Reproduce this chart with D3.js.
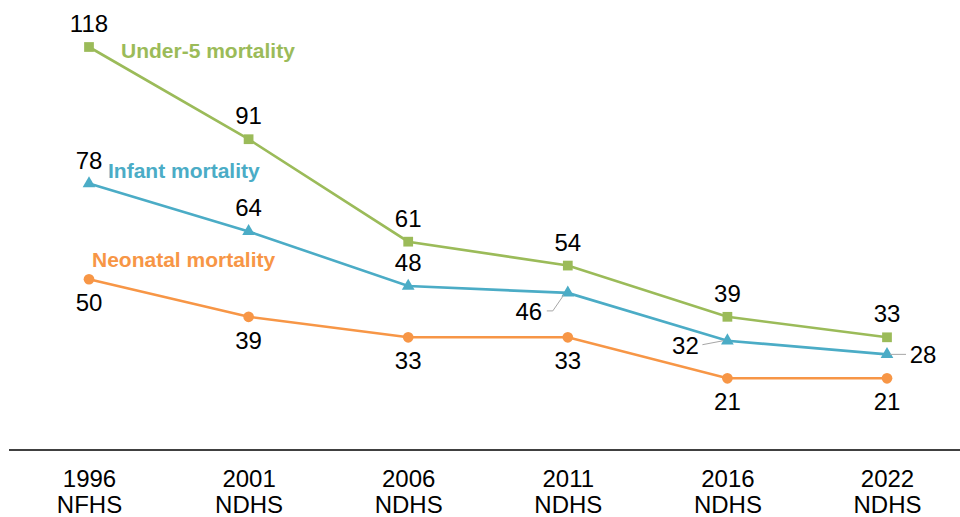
<!DOCTYPE html>
<html>
<head>
<meta charset="utf-8">
<script src="https://cdn.jsdelivr.net/npm/d3@7"></script>
<style>
  body { margin: 0; background: #fff; }
  svg text { font-family: "Liberation Sans", Arial, sans-serif; }
</style>
</head>
<body>
<div class="chart"></div>
<script>
const width = 960;
const height = 517;

const years = ['1996', '2001', '2006', '2011', '2016', '2022'];
const surveys = ['NFHS', 'NDHS', 'NDHS', 'NDHS', 'NDHS', 'NDHS'];

const under5 = [118, 91, 61, 54, 39, 33];
const infant = [78, 64, 48, 46, 32, 28];
const neonatal = [50, 39, 33, 33, 21, 21];

// where each value label sits relative to its point
const under5Place = ['above', 'above', 'above', 'above', 'above', 'above'];
const infantPlace = ['above', 'above', 'above', 'leftLow', 'left', 'right'];
const neonatalPlace = ['below', 'below', 'below', 'below', 'below', 'below'];

const series = [
    { name: 'Under-5 mortality', values: under5, place: under5Place, color: '#9BBB59', symbol: d3.symbolSquare, lx: 32, ly: 11 },
    { name: 'Infant mortality', values: infant, place: infantPlace, color: '#4BACC6', symbol: d3.symbolTriangle, lx: 19, ly: -6 },
    { name: 'Neonatal mortality', values: neonatal, place: neonatalPlace, color: '#F79646', symbol: d3.symbolCircle, lx: 3, ly: -12 },
];

const svg = d3.select('.chart')
    .append('svg')
    .attr('width', width)
    .attr('height', height)

const x = d3.scalePoint()
    .domain(years)
    .range([89, 887])

const y = d3.scaleLinear()
    .domain([0, 118])
    .range([450, 47])

// baseline axis
const axis = svg.append('g')
    .attr('transform', `translate(0,${y(0)})`)
    .call(d3.axisBottom(x).tickSize(0).tickFormat(''))
axis.select('.domain').remove()
axis.append('line')
    .attr('x1', 9).attr('x2', 960)
    .attr('stroke', '#000').attr('stroke-width', 1.3)

const tickLabels = axis.selectAll('.tick')
    .append('text')
    .attr('fill', '#000')
    .attr('text-anchor', 'middle')
    .attr('font-size', 24)
tickLabels.append('tspan').attr('x', 0).attr('y', 37).text(d => d)
tickLabels.append('tspan').attr('x', 0).attr('y', 63).text((d, i) => surveys[i])

const line = d3.line()
    .x((d, i) => x(years[i]))
    .y(d => y(d))

const labelOffset = {
    above: [0, -15, 'middle'],
    below: [0, 32, 'middle'],
    leftLow: [-39, 27, 'middle'],
    left: [-42, 13, 'middle'],
    right: [36, 9, 'middle'],
}

series.forEach(s => {
    const g = svg.append('g')

    g.append('path')
        .datum(s.values)
        .attr('fill', 'none')
        .attr('stroke', s.color)
        .attr('stroke-width', 2.6)
        .attr('d', line)

    g.selectAll('.mark')
        .data(s.values)
        .enter()
        .append('path')
        .attr('transform', (d, i) => `translate(${x(years[i])},${y(d)})`)
        .attr('d', d3.symbol().type(s.symbol).size(s.symbol === d3.symbolTriangle ? 70 : s.symbol === d3.symbolSquare ? 95 : 90))
        .attr('fill', s.color)

    // leader lines
    g.selectAll('.leader')
        .data(s.values.map((v, i) => ({ v, i, p: s.place[i] })).filter(d => d.p !== 'above' && d.p !== 'below'))
        .enter()
        .append('polyline')
        .attr('fill', 'none')
        .attr('stroke', '#A6A6A6')
        .attr('stroke-width', 1)
        .attr('points', d => {
            const px = x(years[d.i]), py = y(d.v)
            if (d.p === 'leftLow') return `${px - 21},${py + 18} ${px - 15},${py + 18} ${px - 4},${py + 2}`
            if (d.p === 'left') return `${px - 25},${py + 4} ${px - 4},${py}`
            return `${px + 3},${py} ${px + 19},${py}`
        })

    g.selectAll('.val')
        .data(s.values)
        .enter()
        .append('text')
        .attr('x', (d, i) => x(years[i]) + labelOffset[s.place[i]][0])
        .attr('y', (d, i) => y(d) + labelOffset[s.place[i]][1])
        .attr('text-anchor', (d, i) => labelOffset[s.place[i]][2])
        .attr('font-size', 24)
        .attr('fill', '#000')
        .text(d => d)

    g.append('text')
        .attr('x', x(years[0]) + s.lx)
        .attr('y', y(s.values[0]) + s.ly)
        .attr('font-size', 21)
        .attr('font-weight', 'bold')
        .attr('fill', s.color)
        .text(s.name)
})
</script>
</body>
</html>
